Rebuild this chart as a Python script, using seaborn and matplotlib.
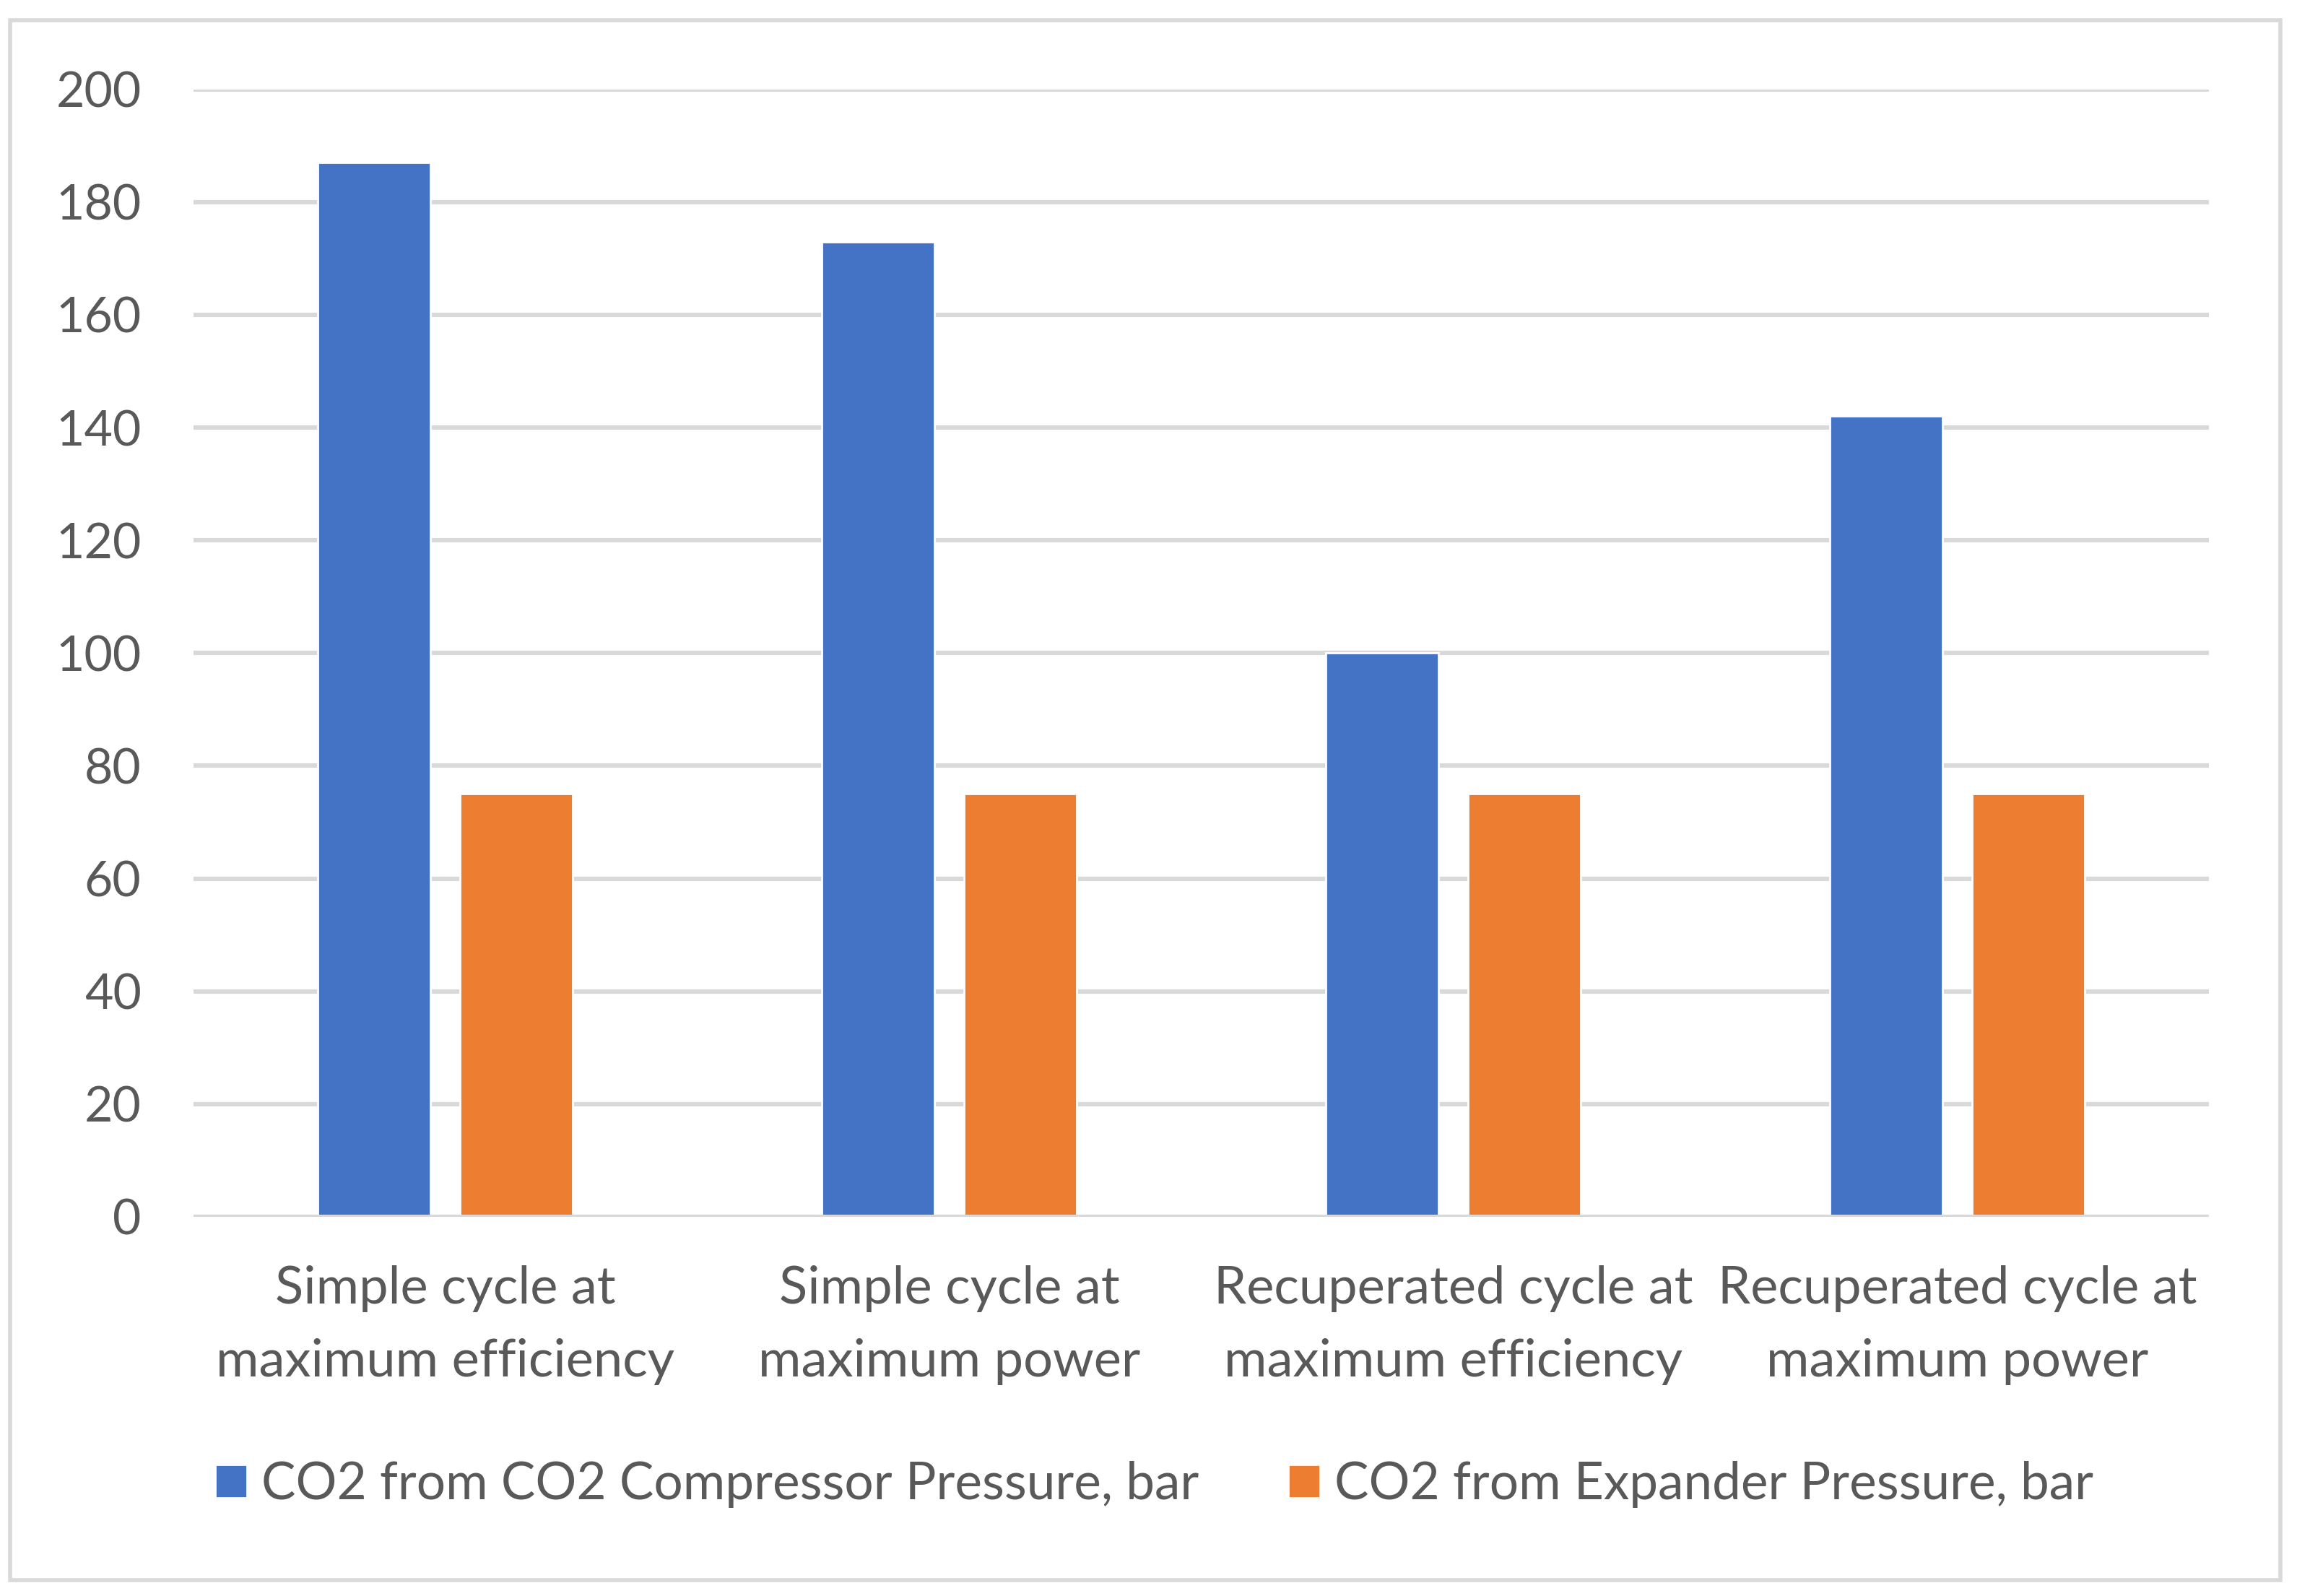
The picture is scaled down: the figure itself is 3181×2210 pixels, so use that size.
import numpy as np
import pandas as pd
import matplotlib
matplotlib.use('Agg')
import matplotlib.pyplot as plt
import seaborn as sns
from matplotlib.patches import Rectangle

categories = [
    "Simple cycle at\nmaximum efficiency",
    "Simple cycle at\nmaximum power",
    "Recuperated cycle at\nmaximum efficiency",
    "Recuperated cycle at\nmaximum power",
]
series_names = ["CO2 from CO2 Compressor Pressure, bar", "CO2 from Expander Pressure, bar"]
compressor_pressure = [187, 173, 100, 142]
expander_pressure = [75, 75, 75, 75]
y_ticks = [0, 20, 40, 60, 80, 100, 120, 140, 160, 180, 200]

colors = ["#4472C4", "#ED7D31"]
text_color = "#595959"
grid_color = "#D9D9D9"

# long format for seaborn
df = pd.DataFrame({
    "Categoria": categories * 2,
    "Serie": [series_names[0]] * 4 + [series_names[1]] * 4,
    "Valor": compressor_pressure + expander_pressure,
})

sns.set_theme(style="white")
plt.rcParams['font.family'] = ['Lato', 'DejaVu Sans']

fig = plt.figure(figsize=(15.905, 11.05), dpi=200)
ax = fig.add_axes([0.0842, 0.2376, 0.9617 - 0.0842, 0.944 - 0.2376])

sns.barplot(data=df, x="Categoria", y="Valor", hue="Serie", palette=colors,
            width=0.564, gap=0.206, ax=ax, saturation=1, legend=True)

ax.set_ylim(0, 200)
ax.set_xlim(-0.5, 3.5)
ax.set_yticks(y_ticks)
ax.yaxis.grid(True, color=grid_color, linewidth=2.2)
ax.set_axisbelow(True)
ax.axhline(0, color=grid_color, linewidth=2.2, zorder=5)
for s in ax.spines.values():
    s.set_visible(False)
ax.set_xlabel("")
ax.set_ylabel("")
ax.tick_params(axis='y', length=0, pad=26, labelsize=24.5, labelcolor=text_color)
ax.tick_params(axis='x', length=0, pad=24, labelsize=26, labelcolor=text_color)
for lbl in ax.get_xticklabels():
    lbl.set_linespacing(1.68)

handles, labels = ax.get_legend_handles_labels()
ax.get_legend().remove()
fig.legend(handles, labels, loc='center', bbox_to_anchor=(0.5025, 0.0697), ncol=2,
           frameon=False, fontsize=25.6, labelcolor=text_color,
           handlelength=0.62, handleheight=0.62, handletextpad=0.27, columnspacing=1.75)

# marco exterior
fig.patches.append(Rectangle((14 / 3181, 1 - 2188 / 2210), (3158 - 14) / 3181, (2188 - 28) / 2210,
                             transform=fig.transFigure, fill=False, edgecolor=grid_color,
                             linewidth=2.0))

plt.savefig("out.png", dpi=200)
plt.close()
